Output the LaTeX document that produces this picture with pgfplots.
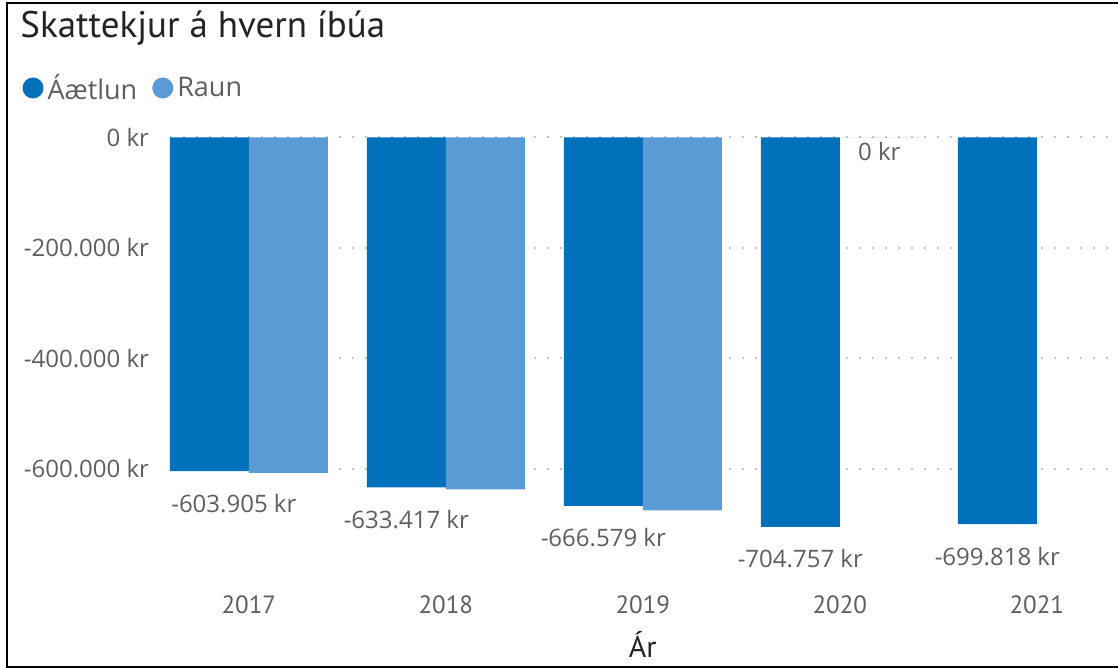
\documentclass[border=0pt]{standalone}
\usepackage{pgfplots}
\pgfplotsset{compat=1.18}
\usepackage{fontspec}
\setmainfont{Open Sans}
\newfontfamily\dinfont{PT Sans}
\definecolor{caet}{RGB}{1,113,187}
\definecolor{craun}{RGB}{91,155,213}
\definecolor{ctxt}{RGB}{96,94,92}
\definecolor{ctitle}{RGB}{37,36,35}
\definecolor{cgrid}{RGB}{200,198,196}
\begin{document}
\begin{tikzpicture}[x=1pt,y=1pt]
\begin{axis}[
  at={(85pt,-267.65pt)}, anchor=south west,
  scale only axis, width=472.8pt, height=199pt,
  xmin=-0.4, xmax=4.4, ymin=-720000, ymax=0,
  clip=false,
  scaled y ticks=false,
  axis line style={draw=none},
  major tick length=0pt,
  xtick={0,1,2,3,4},
  xticklabels={2017,2018,2019,2020,2021},
  xticklabel style={anchor=base, yshift=-38.85pt, font=\dinfont\fontsize{12.5}{14}\selectfont, text=ctxt},
  ytick={-600000,-400000,-200000,0},
  yticklabels={-600.000 kr,-400.000 kr,-200.000 kr,0 kr},
  yticklabel style={anchor=east, xshift=-7pt, font=\fontsize{12}{14}\selectfont, text=ctxt},
  ymajorgrids,
  major grid style={draw=cgrid, line width=1pt, dash pattern=on 1pt off 5.5pt},
  xlabel={Ár},
  xlabel style={at={(axis description cs:0.5,0)}, anchor=base, yshift=-60.85pt, font=\dinfont\fontsize{15}{18}\selectfont, text=ctitle},
  title={Skattekjur á hvern íbúa},
  every axis title shift=0pt,
  title style={at={(axis description cs:-0.1586,1.2520)}, anchor=base west, inner sep=0pt, font=\dinfont\fontsize{18.5}{22}\selectfont, text=ctitle},
  legend columns=2,
  legend style={at={(axis description cs:-0.1564,1.1239)}, anchor=west, draw=none, fill=none, inner sep=0pt,
    font=\fontsize{13.5}{16}\selectfont, text=ctxt,
    nodes={inner sep=1pt},
    /tikz/every odd column/.style={column sep=1pt},
    /tikz/every even column/.style={column sep=6.5pt}},
]
\addplot[ybar, bar width=0.401, bar shift=-0.2005, fill=caet, draw=none,
  legend image code/.code={\fill[caet] (5.25pt,0pt) circle (5.25pt);}]
  coordinates {(0,-603905) (1,-633417) (2,-666579) (3,-704757) (4,-699818)};
\addlegendentry{Áætlun}
\addplot[ybar, bar width=0.401, bar shift=0.2005, fill=craun, draw=none,
  legend image code/.code={\fill[craun] (5.25pt,0pt) circle (5.25pt);}]
  coordinates {(0,-607000) (1,-637000) (2,-675000) (3,0)};
\addlegendentry{Raun}
% data labels for Áætlun
\addplot[draw=none, mark=none, forget plot, nodes near coords, point meta=explicit symbolic,
  nodes near coords style={anchor=base, yshift=-20.5pt, font=\fontsize{12}{14}\selectfont, text=ctxt, inner sep=0pt}]
  table[col sep=comma, x=x, y=y, meta=label] {
x,y,label
-0.076,-603905,-603.905 kr
0.7995,-633417,-633.417 kr
1.7995,-666579,-666.579 kr
2.7995,-704757,-704.757 kr
3.7995,-699818,-699.818 kr
};
% data label for Raun 2020
\addplot[draw=none, mark=none, forget plot, nodes near coords, point meta=explicit symbolic,
  nodes near coords style={anchor=base, yshift=-11.35pt, font=\fontsize{12}{14}\selectfont, text=ctxt, inner sep=0pt}]
  table[col sep=comma, x=x, y=y, meta=label] {
x,y,label
3.2005,0,0 kr
};
\end{axis}
\draw[line width=1pt, black] (565pt,-1.75pt) -- (3.5pt,-1.75pt) -- (3.5pt,-333.25pt) -- (565pt,-333.25pt);
\pgfresetboundingbox
\path[use as bounding box] (0,0) rectangle (559pt,-334pt);
\end{tikzpicture}
\end{document}
